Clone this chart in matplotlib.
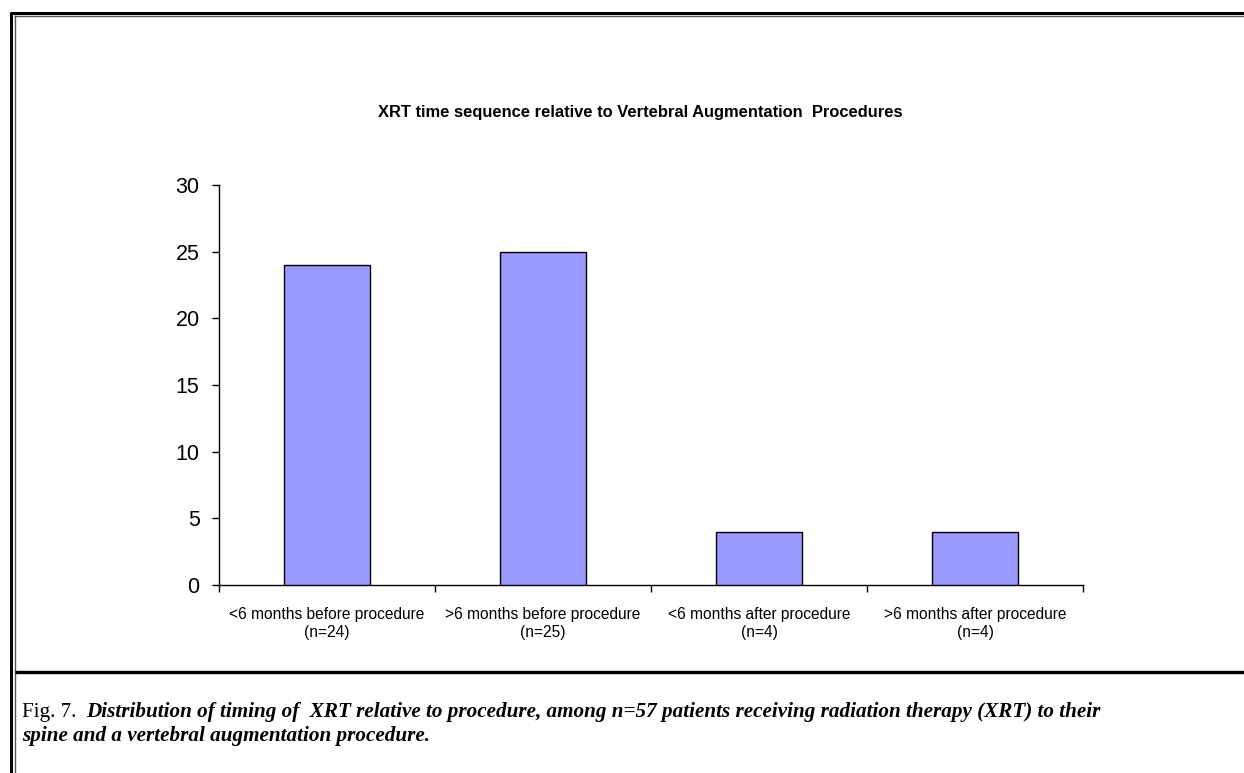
import matplotlib.pyplot as plt
from matplotlib.lines import Line2D

plt.rcParams['font.family'] = ['Liberation Sans', 'DejaVu Sans']

# data
categories = ['<6 months before procedure\n(n=24)', '>6 months before procedure\n(n=25)',
              '<6 months after procedure\n(n=4)', '>6 months after procedure\n(n=4)']
counts = [24, 25, 4, 4]
yticks = [0, 5, 10, 15, 20, 25, 30]

W, H = 1244, 773
fig = plt.figure(figsize=(W / 100, H / 100), dpi=100)
ax = fig.add_axes([219 / W, 1 - 585 / H, (1083 - 219) / W, 400 / H])

x = list(range(len(counts)))
ax.bar(x, counts, width=0.4, color='#9999FF', edgecolor='black', linewidth=1, zorder=3)
ax.set_xlim(-0.5, len(counts) - 0.5)
ax.set_ylim(0, 30)
ax.set_yticks(yticks)
ax.tick_params(axis='y', labelsize=15.5, length=5, width=1, direction='out', pad=9)
ax.set_xticks([i - 0.5 for i in range(len(counts) + 1)])
ax.set_xticklabels([])
ax.set_xticks(x, minor=True)
ax.set_xticklabels(categories, minor=True, fontsize=11.2, linespacing=1.25)
ax.tick_params(axis='x', which='minor', length=0, pad=15.5)
ax.tick_params(axis='x', which='major', length=5, width=1, direction='out')
for s in ['top', 'right']:
    ax.spines[s].set_visible(False)
ax.spines['left'].set_linewidth(1)
ax.spines['bottom'].set_linewidth(1)

fig.text(640 / W, 1 - 113 / H, 'XRT time sequence relative to Vertebral Augmentation  Procedures',
         ha='center', va='center', fontsize=11.9, fontweight='bold')

# page frame lines
def hline(y, x0, x1, lw, c='black'):
    fig.add_artist(Line2D([x0 / W, x1 / W], [1 - y / H, 1 - y / H], lw=lw, color=c,
                          solid_capstyle='butt'))

def vline(xp, y0, y1, lw, c='black'):
    fig.add_artist(Line2D([xp / W, xp / W], [1 - y0 / H, 1 - y1 / H], lw=lw, color=c,
                          solid_capstyle='butt'))

hline(12.5, 10, W, 2.2)
hline(15.5, 13.5, W, 1.0, '#555555')
vline(11, 11.5, H, 2.2)
vline(14.5, 15, H, 1.0, '#555555')
hline(672, 15, W, 2.4)

# caption
serif = ['Liberation Serif', 'DejaVu Serif']
fig.text(22 / W, 1 - 712 / H, 'Fig. 7.', fontsize=15.2, family=serif, va='center')
fig.text(86 / W, 1 - 712 / H,
         'Distribution of timing of  XRT relative to procedure, among n=57 patients receiving radiation therapy (XRT) to their',
         fontsize=15.2, family=serif, style='italic', fontweight='bold', va='center')
fig.text(22 / W, 1 - 736 / H, 'spine and a vertebral augmentation procedure.',
         fontsize=15.2, family=serif, style='italic', fontweight='bold', va='center')

fig.savefig('out.png', dpi=100)
